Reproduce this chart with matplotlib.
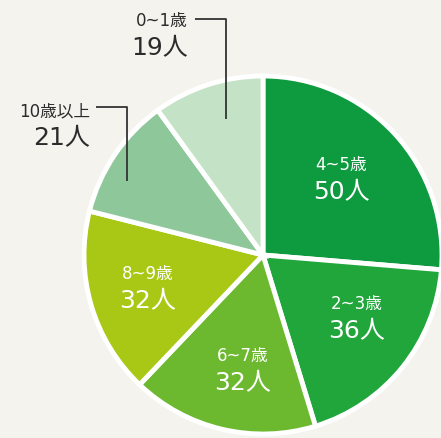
import matplotlib
matplotlib.use("Agg")
import matplotlib.pyplot as plt

plt.rcParams['font.family'] = ['DejaVu Sans', 'Noto Sans CJK JP']

# data, clockwise from 12 o'clock
AGES = ["4~5歳", "2~3歳", "6~7歳", "8~9歳", "10歳以上", "0~1歳"]
COUNTS = [50, 36, 32, 32, 21, 19]
COLORS = ['#0e9a3e', '#21a63b', '#6cb92f', '#a9c815', '#8ec89a', '#c4e3c6']

BG = '#f5f3ee'
W, H = 441, 439
CX, CY, R = 263, H - 256, 179

fig = plt.figure(figsize=(W / 100, H / 100), dpi=100, facecolor=BG)
ax = fig.add_axes([0, 0, 1, 1])
ax.set_facecolor(BG)

ax.pie(COUNTS, colors=COLORS, startangle=90, counterclock=False,
       center=(CX, CY), radius=R, frame=True,
       wedgeprops=dict(edgecolor='white', linewidth=3.5))

ax.set_xlim(0, W)
ax.set_ylim(0, H)
ax.set_aspect('equal')
ax.axis('off')

# labels inside slices (pixel positions, y measured from top)
inside = {0: (341, 165), 1: (357, 304), 2: (243, 356), 3: (148, 274)}
for i, (x, y) in inside.items():
    ax.text(x, H - y, AGES[i], color='white', fontsize=12, ha='center', va='center')
    ax.text(x, H - y - 27, f"{COUNTS[i]}人", color='white', fontsize=18,
            ha='center', va='center')

# outside labels with leader lines
outside = {5: (188, 21, [(195, 226, 226), (20, 20, 120)]),
           4: (90, 111, [(96, 127, 127), (108, 108, 182)])}
for i, (x, y, (lx, ly)) in outside.items():
    ax.text(x, H - y, AGES[i], color='#2b2b2b', fontsize=12, ha='right', va='center')
    ax.text(x, H - y - 27, f"{COUNTS[i]}人", color='#2b2b2b', fontsize=18,
            ha='right', va='center')
    ax.plot(lx, [H - v for v in ly], color='#333333', lw=1.3,
            solid_capstyle='butt', zorder=5)

fig.savefig("out.png", dpi=100, facecolor=BG)
